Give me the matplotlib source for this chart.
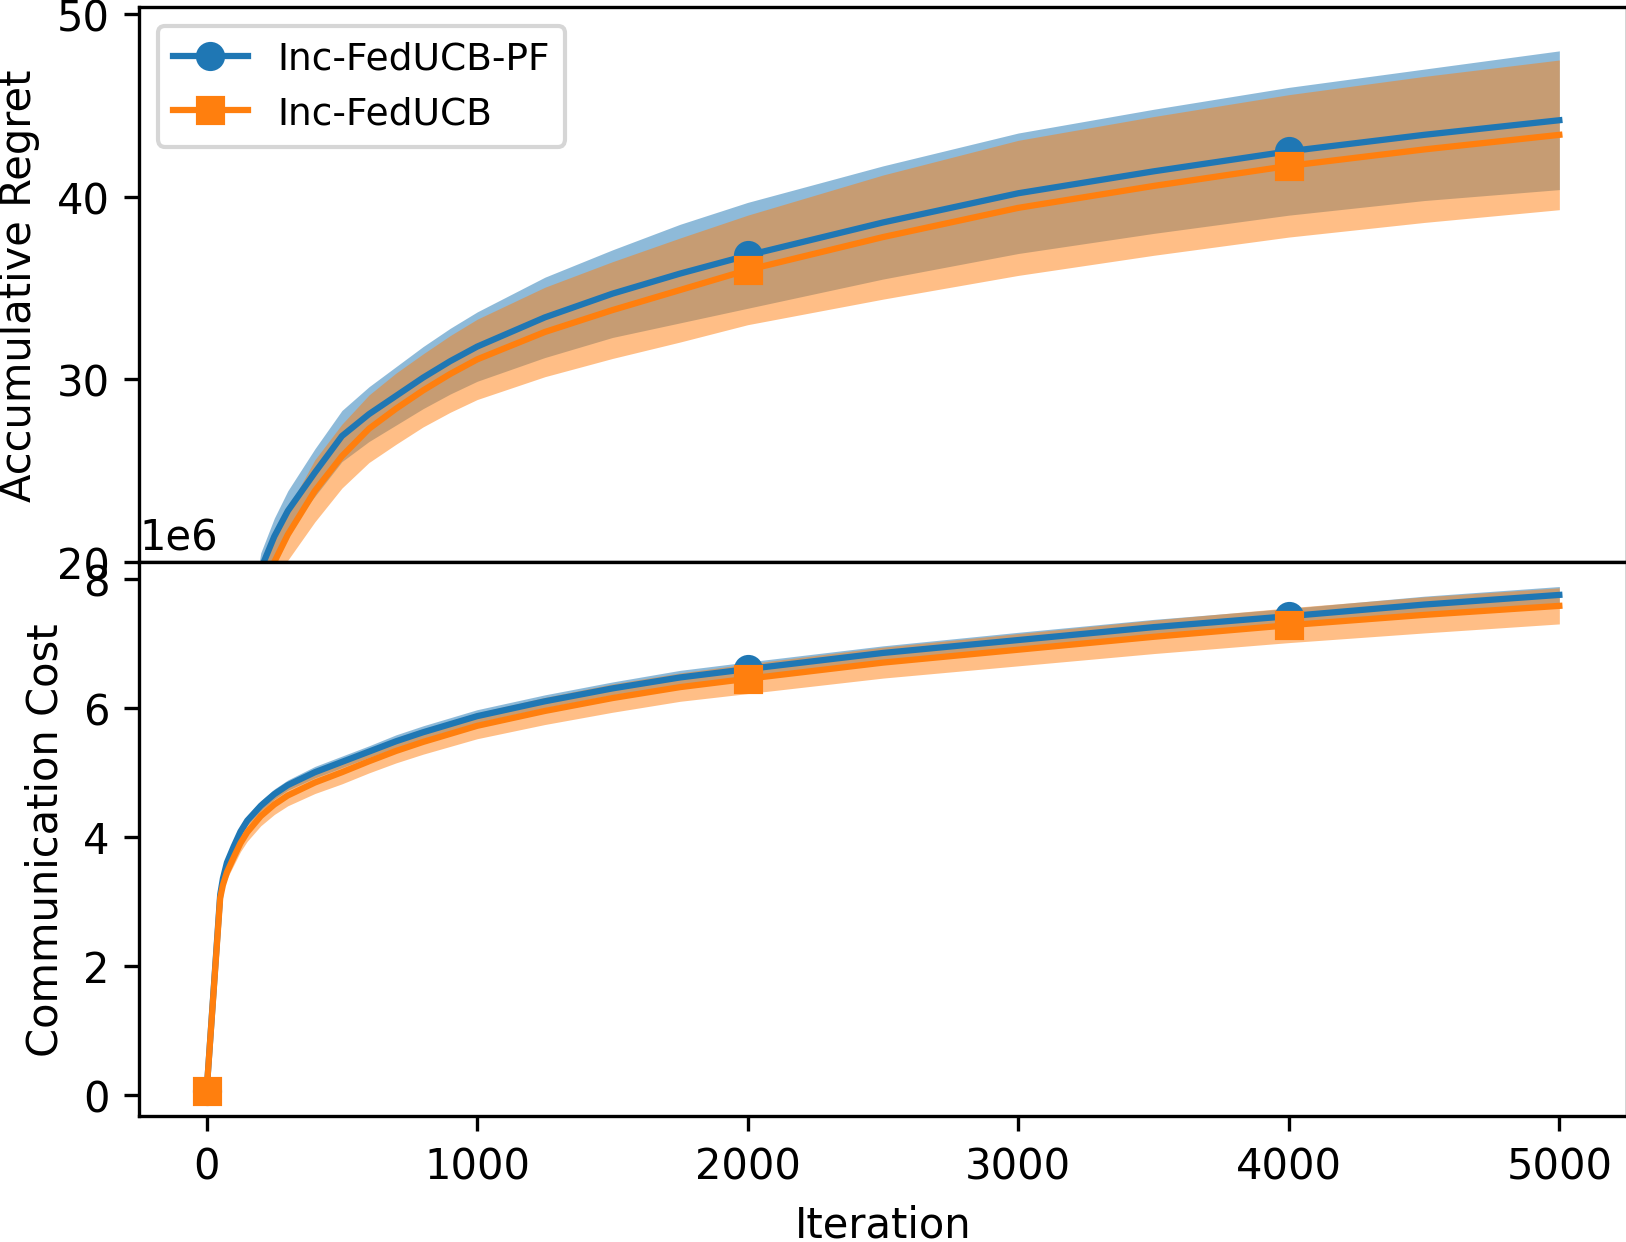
"""
accumulative regret and communication cost of Inc-FedUCB-PF vs Inc-FedUCB
"""

import numpy as np
import matplotlib
matplotlib.use('Agg')
import matplotlib.pyplot as plt
from matplotlib.ticker import MultipleLocator

# regret curves
regret_x = [0, 100, 200, 250, 300, 400, 500, 600, 700, 800, 900, 1000,
            1250, 1500, 1750, 2000, 2500, 3000, 3500, 4000, 4500, 5000]
regret_pf = [0.0, 11.0, 19.6, 21.4, 22.8, 24.9, 26.9, 28.1, 29.1, 30.1, 31.0,
             31.8, 33.4, 34.7, 35.8, 36.8, 38.6, 40.2, 41.4, 42.5, 43.4, 44.2]
regret_pf_std = [0.0, 0.5, 0.9, 1.0, 1.1, 1.3, 1.4, 1.5, 1.6, 1.7, 1.8, 1.9,
                 2.2, 2.4, 2.7, 2.9, 3.1, 3.3, 3.4, 3.5, 3.6, 3.8]
regret_inc = [0.0, 10.0, 18.3, 20.0, 21.5, 23.9, 25.8, 27.3, 28.4, 29.4, 30.3,
              31.1, 32.6, 33.8, 34.9, 36.0, 37.8, 39.4, 40.6, 41.7, 42.6, 43.4]
regret_inc_std = [0.0, 0.6, 1.1, 1.25, 1.4, 1.7, 1.75, 1.85, 1.95, 2.0, 2.1,
                  2.2, 2.45, 2.65, 2.85, 3.0, 3.4, 3.7, 3.8, 3.9, 4.0, 4.1]

# communication cost curves, in units of 1e6
comm_x = [0, 50, 60, 75, 100, 125, 150, 200, 250, 300, 400, 500, 600, 700,
          800, 1000, 1250, 1500, 1750, 2000, 2500, 3000, 3500, 4000, 4500,
          5000]
comm_pf = [0.06, 3.1, 3.35, 3.6, 3.85, 4.08, 4.25, 4.48, 4.66, 4.8, 5.0, 5.16,
           5.32, 5.48, 5.62, 5.87, 6.1, 6.3, 6.47, 6.6, 6.85, 7.05, 7.25,
           7.42, 7.6, 7.75]
comm_pf_std = [0.0, 0.03, 0.04, 0.05, 0.06, 0.065, 0.07, 0.08, 0.08, 0.08,
               0.09, 0.09, 0.09, 0.1, 0.1, 0.1, 0.1, 0.1, 0.11, 0.11, 0.11,
               0.12, 0.12, 0.12, 0.13, 0.13]
comm_inc = [0.06, 3.05, 3.25, 3.45, 3.68, 3.9, 4.07, 4.32, 4.5, 4.64, 4.84,
            5.0, 5.17, 5.33, 5.47, 5.72, 5.95, 6.15, 6.32, 6.45, 6.7, 6.9,
            7.1, 7.28, 7.44, 7.58]
comm_inc_std = [0.0, 0.05, 0.07, 0.1, 0.12, 0.13, 0.14, 0.15, 0.155, 0.16,
                0.17, 0.18, 0.18, 0.185, 0.19, 0.2, 0.21, 0.22, 0.22, 0.23,
                0.24, 0.25, 0.26, 0.27, 0.28, 0.28]

labels = ['Inc-FedUCB-PF', 'Inc-FedUCB']
marker_at = [0, 2000, 4000]


def draw(ax, x, means, stds, scale=1.0):
    """
    draw the two mean lines with their shaded bands
    """
    x = np.array(x)
    every = [i for i, v in enumerate(x) if v in marker_at]
    styles = [('tab:blue', 'o'), ('tab:orange', 's')]
    for (color, _), m, s in zip(styles, means, stds):
        m = np.array(m) * scale
        s = np.array(s) * scale
        ax.fill_between(x, m - s, m + s, color=color, alpha=0.5,
                        linewidth=0)
    for (color, mk), m, lab in zip(styles, means, labels):
        ax.plot(x, np.array(m) * scale, color=color, marker=mk,
                markevery=every, label=lab)


def main():
    fig = plt.figure(figsize=(5.42, 4.143), dpi=300)
    # top axes first so the lower one (and its 1e6 offset) is drawn over it
    ax1 = fig.add_axes([0.0855, 0.5471, 0.9151, 0.4465])
    ax2 = fig.add_axes([0.0855, 0.1014, 0.9151, 0.4457], sharex=ax1)

    draw(ax1, regret_x, [regret_pf, regret_inc],
         [regret_pf_std, regret_inc_std])
    ax1.set_ylim(20, 50.4)
    ax1.yaxis.set_major_locator(MultipleLocator(10))
    ax1.set_ylabel('Accumulative Regret')
    ax1.tick_params(labelbottom=False)
    ax1.legend(loc='upper left', fontsize=9)

    draw(ax2, comm_x, [comm_pf, comm_inc], [comm_pf_std, comm_inc_std],
         scale=1e6)
    ax2.set_ylim(-0.33e6, 8.26e6)
    ax2.set_ylabel('Communication Cost')
    ax2.set_xlabel('Iteration')
    ax2.set_xlim(-250, 5250)

    fig.savefig('out.png', dpi=300)


if __name__ == '__main__':
    main()
